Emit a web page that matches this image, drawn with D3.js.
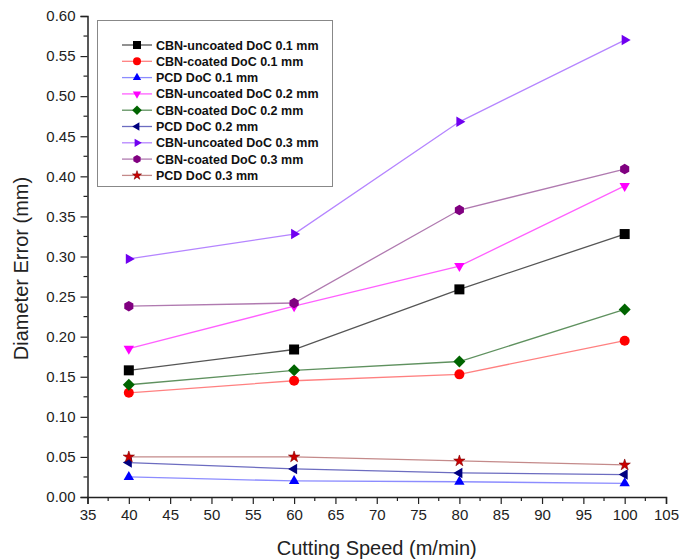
<!DOCTYPE html>
<html>
<head>
<meta charset="utf-8">
<script src="https://cdn.jsdelivr.net/npm/d3@7"></script>
<style>
  body { margin: 0; background: #fff; }
  svg { display: block; font-family: Arial, "Liberation Sans", sans-serif; }
</style>
</head>
<body>
<svg id="chart" width="694" height="560"></svg>
<script>
const speeds = [40, 60, 80, 100];
const seriesNames = [
  "CBN-uncoated DoC 0.1 mm",
  "CBN-coated DoC 0.1 mm",
  "PCD DoC 0.1 mm",
  "CBN-uncoated DoC 0.2 mm",
  "CBN-coated DoC 0.2 mm",
  "PCD DoC 0.2 mm",
  "CBN-uncoated DoC 0.3 mm",
  "CBN-coated DoC 0.3 mm",
  "PCD DoC 0.3 mm"
];
const cbnUncoated01 = [0.158, 0.184, 0.259, 0.328];
const cbnCoated01   = [0.130, 0.145, 0.153, 0.195];
const pcd01         = [0.025, 0.020, 0.019, 0.017];
const cbnUncoated02 = [0.185, 0.238, 0.288, 0.388];
const cbnCoated02   = [0.140, 0.158, 0.169, 0.234];
const pcd02         = [0.043, 0.035, 0.030, 0.028];
const cbnUncoated03 = [0.297, 0.328, 0.468, 0.570];
const cbnCoated03   = [0.238, 0.242, 0.358, 0.409];
const pcd03         = [0.050, 0.050, 0.045, 0.040];
const seriesValues = [cbnUncoated01, cbnCoated01, pcd01, cbnUncoated02, cbnCoated02, pcd02, cbnUncoated03, cbnCoated03, pcd03];
const xTicks = [35, 40, 45, 50, 55, 60, 65, 70, 75, 80, 85, 90, 95, 100, 105];
const yTicks = [0, 0.05, 0.10, 0.15, 0.20, 0.25, 0.30, 0.35, 0.40, 0.45, 0.50, 0.55, 0.60];

const markerColors = ["#000000", "#ff0000", "#0000ff", "#ff00ff", "#006400", "#000080", "#7000f0", "#800080", "#cc0000"];
const lineColors   = ["#555555", "#ff8080", "#8c8cff", "#ff60ff", "#5f915f", "#6c6cc0", "#b585ff", "#b07ab0", "#c48a8a"];
const shapes = ["square", "circle", "tup", "tdown", "diamond", "tleft", "tright", "hexagon", "star"];

const svg = d3.select("#chart");
const x = d3.scaleLinear().domain([35, 105]).range([87.5, 666]);
const y = d3.scaleLinear().domain([0, 0.6]).range([497, 16]);

function shapePath(shape, s) {
  const h = s / 2;
  switch (shape) {
    case "square": return `M${-h},${-h}H${h}V${h}H${-h}Z`;
    case "circle": return d3.symbol(d3.symbolCircle, Math.PI * h * h)();
    case "diamond": { const d = h * 1.2; return `M0,${-d}L${d},0L0,${d}L${-d},0Z`; }
    case "hexagon": {
      const r = h * 1.05; let p = "";
      for (let i = 0; i < 6; i++) { const a = Math.PI / 6 + i * Math.PI / 3; p += (i ? "L" : "M") + (r * Math.cos(a)).toFixed(2) + "," + (r * Math.sin(a)).toFixed(2); }
      return p + "Z";
    }
    case "star": return d3.symbol(d3.symbolStar, s * s * 0.4)();
    default: {
      const r = h * 1.2;
      const pts = [[0, -r], [r * 0.866, r * 0.5], [-r * 0.866, r * 0.5]];
      const rot = { tup: 0, tright: 90, tdown: 180, tleft: 270 }[shape];
      const a = rot * Math.PI / 180;
      return "M" + pts.map(([px, py]) => [px * Math.cos(a) - py * Math.sin(a), px * Math.sin(a) + py * Math.cos(a)].map(v => v.toFixed(2)).join(",")).join("L") + "Z";
    }
  }
}

// Axes
const xAxis = d3.axisBottom(x).tickValues(xTicks).tickSize(7).tickPadding(5).tickFormat(d3.format("d"));
const yAxis = d3.axisLeft(y).tickValues(yTicks).tickSize(7).tickPadding(5).tickFormat(d3.format(".2f"));

const minorX = d3.range(37.5, 105, 5);
const minorY = d3.range(0.025, 0.6, 0.05);

const gx = svg.append("g").attr("transform", `translate(0,${y(0)})`).call(xAxis);
gx.selectAll("g.minor").data(minorX).enter().append("line")
  .attr("x1", d => x(d)).attr("x2", d => x(d)).attr("y1", 0).attr("y2", 4).attr("stroke", "#222").attr("stroke-width", 1.2);
const gy = svg.append("g").attr("transform", `translate(${x(35)},0)`).call(yAxis);
gy.selectAll("g.minor").data(minorY).enter().append("line")
  .attr("y1", d => y(d)).attr("y2", d => y(d)).attr("x1", 0).attr("x2", -4).attr("stroke", "#222").attr("stroke-width", 1.2);

[gx, gy].forEach(g => {
  g.select(".domain").attr("stroke", "#222").attr("stroke-width", 1.5);
  g.selectAll(".tick line").attr("stroke", "#222").attr("stroke-width", 1.2);
  g.selectAll(".tick text").attr("fill", "#222").style("font-size", "15px").style("font-family", "Arial, 'Liberation Sans', sans-serif");
});

// Axis titles
svg.append("text").attr("x", (x(35) + x(105)) / 2).attr("y", 555).attr("text-anchor", "middle")
  .attr("fill", "#222").style("font-size", "20px").text("Cutting Speed (m/min)");
svg.append("text").attr("transform", `translate(28,${(y(0) + y(0.6)) / 2 + 12}) rotate(-90)`).attr("text-anchor", "middle")
  .attr("fill", "#222").style("font-size", "20px").text("Diameter Error (mm)");

// Series
const line = d3.line().x((d, i) => x(speeds[i])).y(d => y(d));
seriesValues.forEach((vals, si) => {
  svg.append("path").datum(vals).attr("d", line).attr("fill", "none")
    .attr("stroke", lineColors[si]).attr("stroke-width", 1.3);
});
seriesValues.forEach((vals, si) => {
  svg.append("g").selectAll("path").data(vals).enter().append("path")
    .attr("transform", (d, i) => `translate(${x(speeds[i])},${y(d)})`)
    .attr("d", shapePath(shapes[si], 10))
    .attr("fill", markerColors[si])
    .attr("stroke", si === 8 ? "#800000" : "none").attr("stroke-width", 0.6);
});

// Legend
const lg = svg.append("g");
lg.append("rect").attr("x", 97.5).attr("y", 20.5).attr("width", 235).attr("height", 166)
  .attr("fill", "#fff").attr("stroke", "#888").attr("stroke-width", 1);
seriesNames.forEach((name, i) => {
  const yy = 45 + i * 16.3;
  lg.append("line").attr("x1", 122).attr("x2", 152).attr("y1", yy).attr("y2", yy)
    .attr("stroke", lineColors[i]).attr("stroke-width", 1.3);
  lg.append("path").attr("transform", `translate(137,${yy})`).attr("d", shapePath(shapes[i], 8))
    .attr("fill", markerColors[i]).attr("stroke", i === 8 ? "#800000" : "none").attr("stroke-width", 0.6);
  lg.append("text").attr("x", 156).attr("y", yy + 4.5).attr("fill", "#111")
    .style("font-size", "12.5px").style("font-weight", "bold").text(name);
});
</script>
</body>
</html>
